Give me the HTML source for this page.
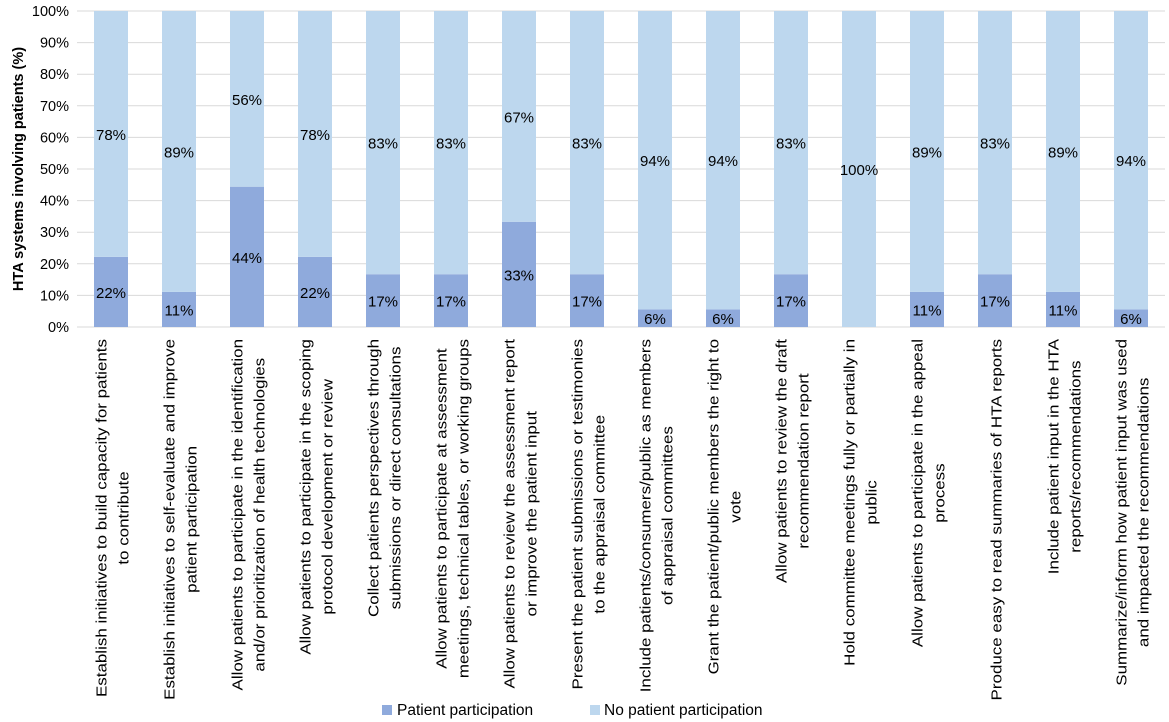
<!DOCTYPE html>
<html><head><meta charset="utf-8">
<style>
html,body{margin:0;padding:0;background:#fff;}
svg{display:block;font-family:"Liberation Sans",sans-serif;}
</style></head>
<body>
<svg id="chart" width="1169" height="722" viewBox="0 0 1169 722" xmlns="http://www.w3.org/2000/svg">
<g id="grid"></g>
<g id="yticks"></g>
<g id="bars"></g>
<g id="xlabels"></g>
<text transform="translate(23,169) rotate(-90)" text-anchor="middle" font-size="14.5" font-weight="bold" fill="#000">HTA systems involving patients (%)</text>
<g>
  <rect x="382" y="705" width="10" height="10" fill="#8FAADC"/>
  <text x="397" y="715" font-size="15.5" fill="#000">Patient participation</text>
  <rect x="590" y="705" width="10" height="10" fill="#BDD7EE"/>
  <text x="604" y="715" font-size="15.5" fill="#000">No patient participation</text>
</g>
</svg>
<script>
const categories = [
 ["Establish initiatives to build capacity for patients","to contribute"],
 ["Establish initiatives to self-evaluate and improve","patient participation"],
 ["Allow patients to participate in the identification","and/or prioritization of health technologies"],
 ["Allow patients to participate in the scoping","protocol development or review"],
 ["Collect patients perspectives through","submissions or direct consultations"],
 ["Allow patients to participate at assessment","meetings, technical tables, or working groups"],
 ["Allow patients to review the assessment report","or improve the patient input"],
 ["Present the patient submissions or testimonies","to the appraisal committee"],
 ["Include patients/consumers/public as members","of appraisal committees"],
 ["Grant the patient/public members the right to","vote"],
 ["Allow patients to review the draft","recommendation report"],
 ["Hold committee meetings fully or partially in","public"],
 ["Allow patients to participate in the appeal","process"],
 ["Produce easy to read summaries of HTA reports"],
 ["Include patient input in the HTA","reports/recommendations"],
 ["Summarize/inform how patient input was used","and impacted the recommendations"]
];
const patientValues = [22.2,11.1,44.4,22.2,16.7,16.7,33.3,16.7,5.6,5.6,16.7,0,11.1,16.7,11.1,5.6];
const noPatientValues = [77.8,88.9,55.6,77.8,83.3,83.3,66.7,83.3,94.4,94.4,83.3,100,88.9,83.3,88.9,94.4];
const yTicks = [0,10,20,30,40,50,60,70,80,90,100];

const NS="http://www.w3.org/2000/svg";
const X0=77, X1=1165, Y0=327, Y1=11;
const band=(X1-X0)/categories.length;
const barW=34;
function yScale(v){return Y0-(v/100)*(Y0-Y1);}
function xCenter(i){return X0+band*(i+0.5);}
function mk(tag,attrs,parent){const e=document.createElementNS(NS,tag);for(const k in attrs)e.setAttribute(k,attrs[k]);parent.appendChild(e);return e;}

const grid=document.getElementById('grid'), yt=document.getElementById('yticks');
yTicks.forEach(t=>{
  const l=mk('line',{x1:X0,x2:X1,y1:yScale(t),y2:yScale(t),stroke:'#d9d9d9','stroke-width':1},grid);
  
  
  const tx=mk('text',{x:69,y:yScale(t)+5,'text-anchor':'end','font-size':'14.5',fill:'#000'},yt);
  tx.textContent=t+'%';
  
  
});

const bars=document.getElementById('bars');
categories.forEach((c,i)=>{
  const cx=xCenter(i), p=patientValues[i], n=noPatientValues[i];
  const r1=mk('rect',{x:cx-barW/2,y:yScale(p),width:barW,height:Y0-yScale(p),fill:'#8FAADC'},bars);
  
  
  const r2=mk('rect',{x:cx-barW/2,y:yScale(p+n),width:barW,height:yScale(p)-yScale(p+n),fill:'#BDD7EE'},bars);
  
  
  if(p>0){
    const t=mk('text',{x:cx,y:(yScale(p)+Y0)/2+6,'text-anchor':'middle','font-size':'15',fill:'#000'},bars);
    t.textContent=Math.round(p)+'%';
    
    
  }
  if(n>0){
    const t=mk('text',{x:cx,y:(yScale(p)+yScale(p+n))/2+6,'text-anchor':'middle','font-size':'15',fill:'#000'},bars);
    t.textContent=Math.round(n)+'%';
    
    
  }
});

const xl=document.getElementById('xlabels');
const STRETCH=1.13;
categories.forEach((lines,i)=>{
  const g=mk('g',{},xl);
  
  
  const texts=lines.map(s=>{const t=mk('text',{'text-anchor':'middle','font-size':'15',fill:'#000'},g);t.textContent=s;return t;});
  let maxL=0;
  texts.forEach(t=>{
    const L=t.getComputedTextLength()*STRETCH;
    t.setAttribute('textLength',L);
    t.setAttribute('lengthAdjust','spacingAndGlyphs');
    maxL=Math.max(maxL,L);
  });
  const cy=339+maxL/2, lh=22;
  const cx=xCenter(i);
  texts.forEach((t,k)=>{
    const off=(k-(texts.length-1)/2)*lh;
    const px=cx+off+6.5;
    t.setAttribute('transform','translate('+px+','+cy+') rotate(-90)');
  });
});
</script>
</body></html>
